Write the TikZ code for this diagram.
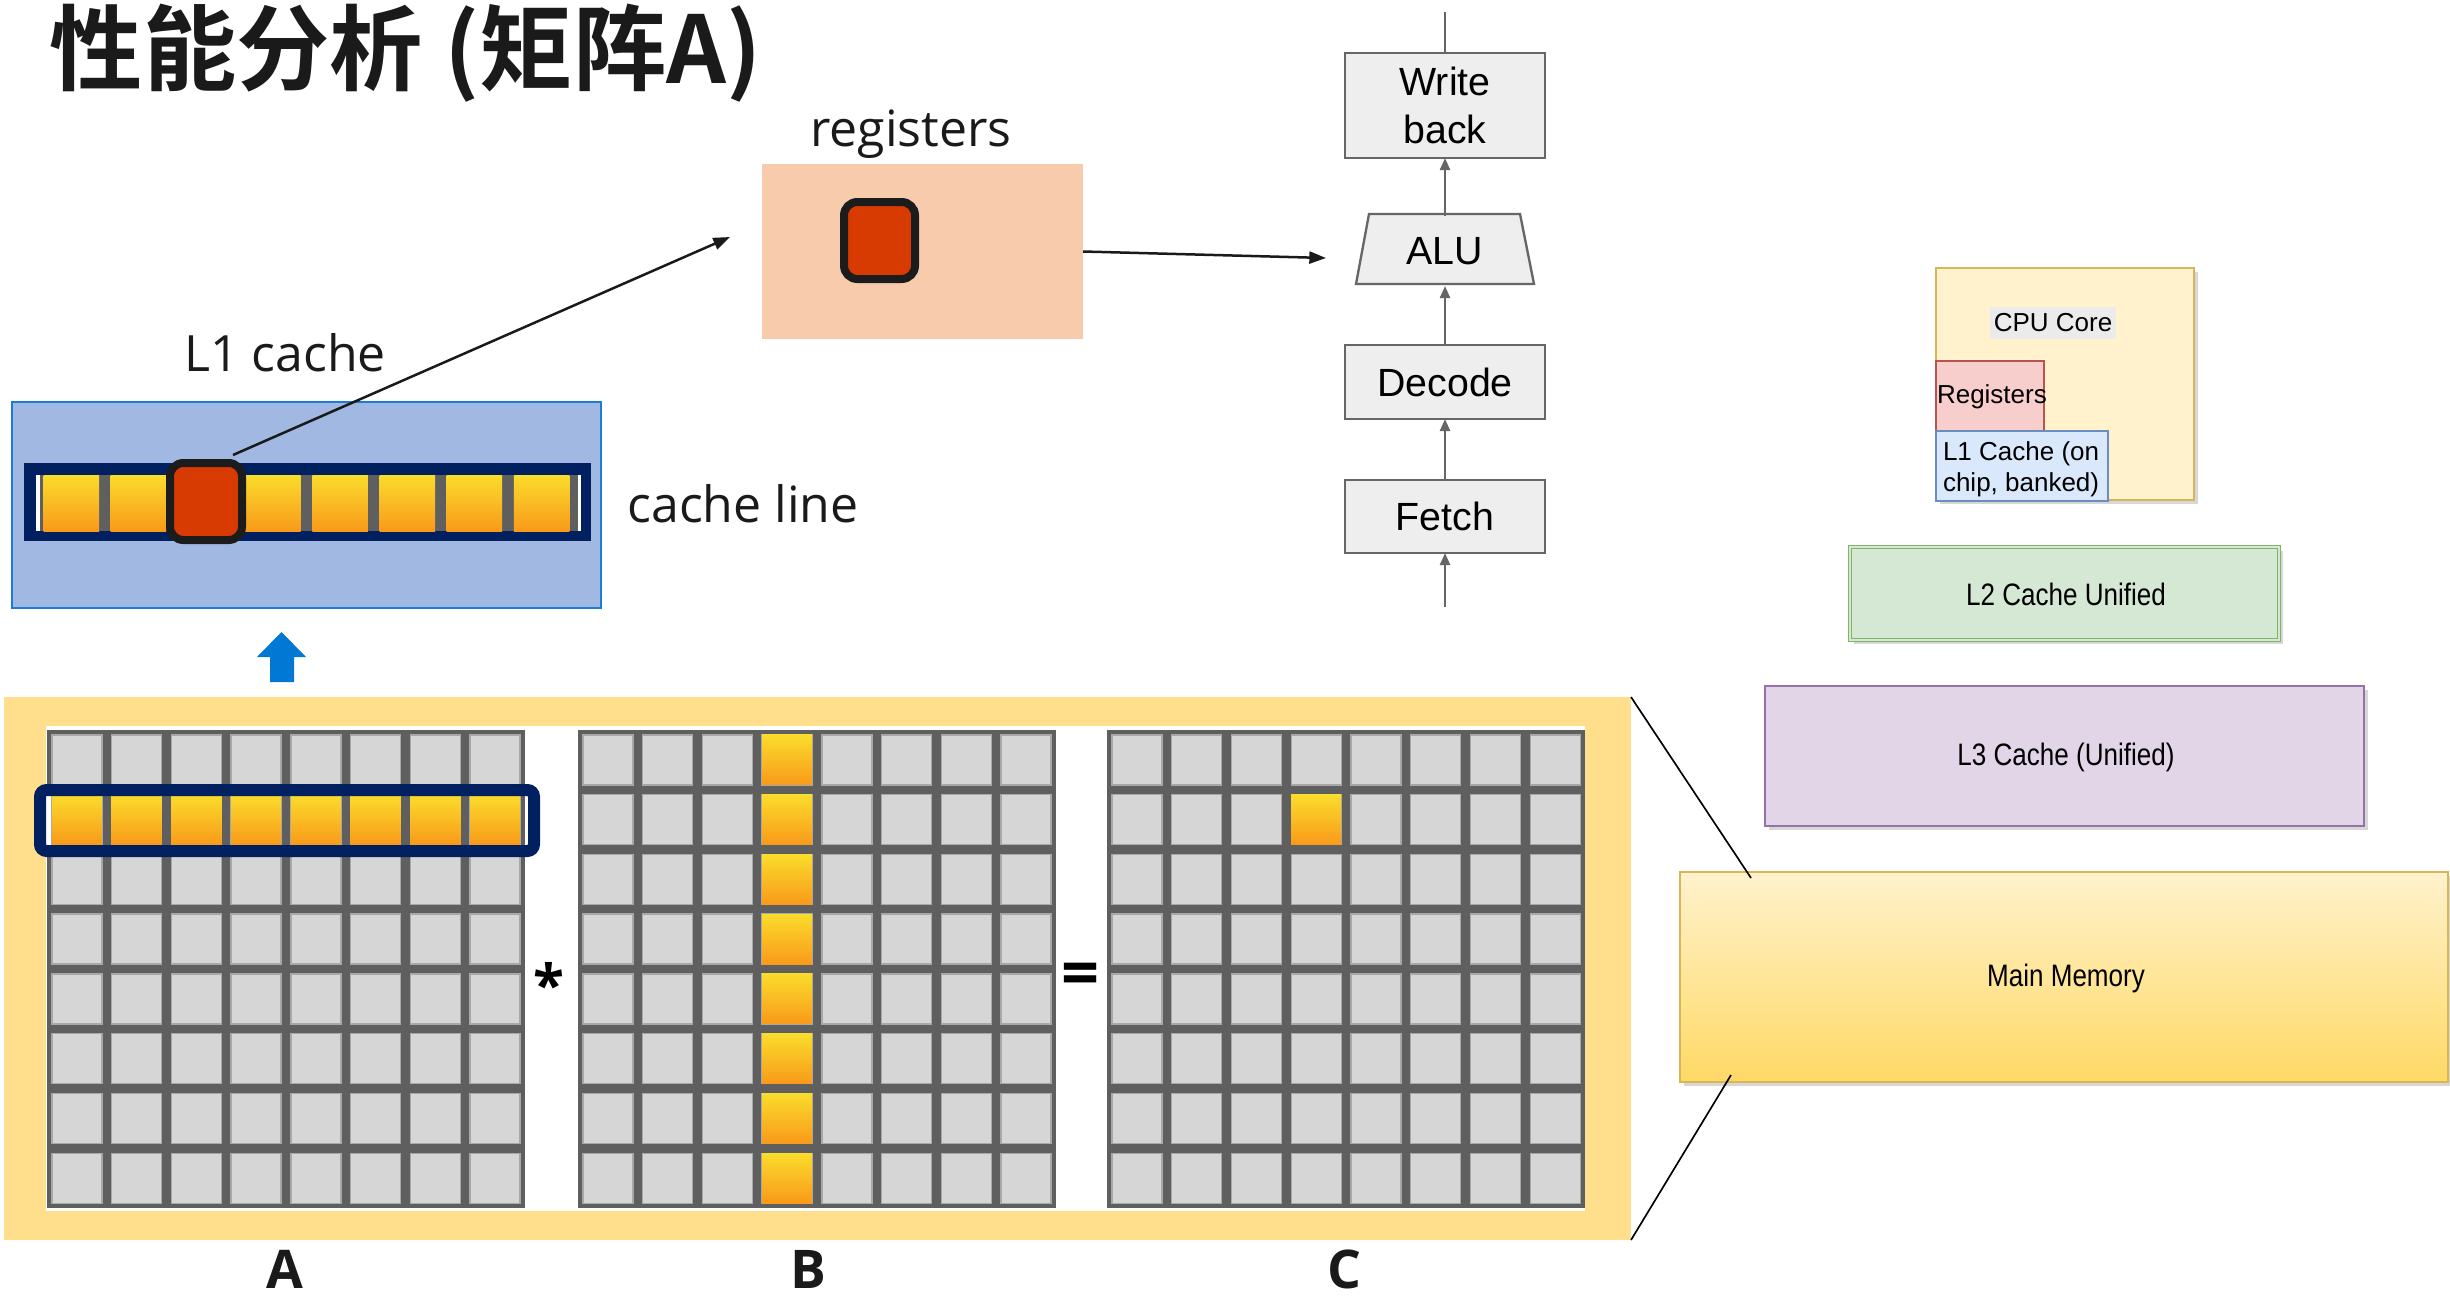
\documentclass[tikz,border=0pt]{standalone}
\usepackage{fontspec}
\newfontfamily\cjkfont{Noto Sans CJK SC}[BoldFont={* Bold}]
\newfontfamily\uifont{Open Sans}
\newfontfamily\arialfont{Liberation Sans}
\newfontfamily\arialnarrow{Liberation Sans}[FakeStretch=0.84]
\usetikzlibrary{arrows.meta,fit,shadows}

\definecolor{txtdark}{HTML}{1A1A1A}
\definecolor{bgyellow}{HTML}{FFDF8C}
\definecolor{gridgray}{HTML}{5F5F5F}
\definecolor{cellgray}{HTML}{D6D6D6}
\definecolor{celledge}{HTML}{A8A8A8}
\definecolor{goldtop}{HTML}{FADC2C}
\definecolor{goldbot}{HTML}{F99A1A}
\definecolor{navy}{HTML}{002060}
\definecolor{l1fill}{HTML}{A0B8E2}
\definecolor{l1edge}{HTML}{1A7FD4}
\definecolor{regfill}{HTML}{F8CBAD}
\definecolor{redcell}{HTML}{D83B01}
\definecolor{cellborder}{HTML}{1C1C1C}
\definecolor{upblue}{HTML}{0078D4}
\definecolor{pipefill}{HTML}{EEEEEE}
\definecolor{pipeedge}{HTML}{666666}
\definecolor{cpufill}{HTML}{FFF2CC}
\definecolor{cpuedge}{HTML}{D6B656}
\definecolor{hlgray}{HTML}{EBEBEB}
\definecolor{rgfill}{HTML}{F8CECC}
\definecolor{rgedge}{HTML}{B85450}
\definecolor{lonefill}{HTML}{DAE8FC}
\definecolor{loneedge}{HTML}{6C8EBF}
\definecolor{ltwofill}{HTML}{D5E8D4}
\definecolor{ltwoedge}{HTML}{82B366}
\definecolor{lthreefill}{HTML}{E1D5E7}
\definecolor{lthreeedge}{HTML}{9673A6}
\definecolor{memtop}{HTML}{FFF2CC}
\definecolor{membot}{HTML}{FFD966}

% one highlighted (gold) matrix cell, top-left corner given
\newcommand\goldcell[2]{\shade[top color=goldtop,bottom color=goldbot] ({#1},{#2}) rectangle ++(50,50);}

\begin{document}
\begin{tikzpicture}[x=0.3pt,y=-0.3pt,
  every node/.style={inner sep=0pt, outer sep=0pt},
  ui/.style={font=\uifont\fontsize{15}{18}\selectfont, text=txtdark},
  uibold/.style={font=\uifont\bfseries\fontsize{16}{19}\selectfont, text=txtdark},
  redbox/.style={draw=cellborder, line width=2.4pt, fill=redcell, rounded corners=4pt},
  pipebox/.style={draw=pipeedge, fill=pipefill, line width=0.7pt, minimum width=60pt,
    align=center, font=\arialfont\fontsize{11.8}{14.4}\selectfont},
  pipeline/.style={draw=pipeedge, line width=0.7pt},
  pipearrow/.style={pipeline, -{Triangle[length=3.6pt,width=3pt]}},
  blackarrow/.style={draw=txtdark, line width=0.75pt, -{Triangle[length=5pt,width=3.6pt]}},
  dioshadow/.style={drop shadow={shadow xshift=1.2pt, shadow yshift=-1.2pt, opacity=0.22, fill=black!70}},
  diotext/.style={font=\arialnarrow\fontsize{9.3}{11}\selectfont, text=black},
  diosmall/.style={font=\arialfont\fontsize{7.8}{9.3}\selectfont, text=black},
]
\useasboundingbox (0,0) rectangle (2450,1297);
\fill[white] (0,0) rectangle (2450,1297);

% ---------- title ----------
\node[anchor=west, font=\cjkfont\bfseries\fontsize{28}{32}\selectfont, text=txtdark] (title) at (50,53) {性能分析 (矩阵A)};

% ---------- registers ----------
\node[fill=regfill, minimum width=96.3pt, minimum height=52.5pt] (regbox) at (922.5,251.5) {};
\node[ui] (reglabel) at (911,134) {registers};
\node[redbox, minimum width=21.3pt, minimum height=23.1pt] (regcell) at (879.5,240.5) {};

% ---------- L1 cache with one cache line ----------
\node[fit={(12,402) (601,608)}, draw=l1edge, fill=l1fill, line width=0.6pt] (l1box) {};
\node[ui] (l1label) at (285,353) {L1 cache};
\node[fit={(24,463) (591,541)}, fill=navy] (cacheline) {};
\fill[gridgray] (36,475) rectangle (581,531);
\fill[white] (36,475) rectangle (39.5,531);
\fill[white] (577.5,475) rectangle (581,531);
\foreach \i in {0,...,7}
  \shade[top color=goldtop,bottom color=goldbot] ({43.5+\i*67.2},475) rectangle ++(55.5,56);
\node[redbox, minimum width=21.6pt, minimum height=23.1pt] (l1cell) at (206,501.5) {};
\node[ui] (cllabel) at (743,504) {cache line};

% load into register, then feed the ALU
\coordinate (regtip) at (730,237);
\draw[blackarrow] ([xshift=-2.7pt,yshift=2.4pt]l1cell.north east) -- (regtip);
\coordinate (aluin) at (1326,258);
\draw[blackarrow] (regbox.east) -- (aluin);

% ---------- pipeline ----------
\node[pipebox, minimum height=31.5pt] (wb) at (1445,105.5) {Write\\back};
\draw[draw=pipeedge, fill=pipefill, line width=0.7pt]
  (1369,214) -- (1520,214) -- (1534,284) -- (1356,284) -- cycle;
\node[minimum width=45.3pt, minimum height=21pt, font=\arialfont\fontsize{11.8}{14.4}\selectfont] (alu) at (1445,251) {ALU};
\node[pipebox, minimum height=22.2pt] (decode) at (1445,382) {Decode};
\node[pipebox, minimum height=21.9pt] (fetch) at (1445,516.5) {Fetch};
\coordinate (wbtop) at (1445,12);
\coordinate (fetchin) at (1445,607);
\draw[pipeline] (wb) -- (wbtop);
\draw[pipearrow] (fetchin) -- (fetch);
\draw[pipearrow] (fetch) -- (decode);
\draw[pipearrow] (decode) -- (alu);
\draw[pipearrow] (alu) -- (wb);

% ---------- upward block arrow ----------
\fill[upblue] (257,657) -- (281.5,632) -- (306,657) -- (294,657) -- (294,682)
  -- (270,682) -- (270,657) -- cycle;

% ---------- matrices A * B = C ----------
\node[fit={(4,697) (1631,1240)}, fill=bgyellow] (matbg) {};
\fill[white] (46,726) rectangle (1585,1211);
\foreach \mx in {47,578,1107} {
  \fill[gridgray] (\mx,730) rectangle ++(478,478);
  \foreach \i in {0,...,7}
    \foreach \j in {0,...,7}
      \filldraw[fill=cellgray, draw=celledge, line width=0.4pt]
        ({\mx+4.9+\i*59.75},{734.9+\j*59.75}) rectangle ++(50,50);
}
% row of A
\foreach \i in {0,...,7} { \goldcell{51.9+\i*59.75}{794.65} }
\fill[white] (46,794.65) rectangle (50.5,844.65);
\draw[navy, line width=3.6pt, rounded corners=2pt] (40,790) rectangle (534,851);
% column of B
\foreach \j in {0,...,7} { \goldcell{582.9+3*59.75}{734.9+\j*59.75} }
% element of C
\goldcell{1111.9+3*59.75}{794.65}

\node[font=\uifont\bfseries\fontsize{17}{20}\selectfont, text=black, anchor=base] (times) at (549,1005) {*};
\node[font=\uifont\bfseries\fontsize{20}{24}\selectfont, text=black, anchor=base] (equals) at (1081,996) {=};
\node[uibold, anchor=base] (labA) at (284.7,1288) {A};
\node[uibold, anchor=base] (labB) at (808,1288) {B};
\node[uibold, anchor=base] (labC) at (1344,1288) {C};

% ---------- memory hierarchy ----------
\node[fit={(1936,268) (2194,500)}, draw=cpuedge, fill=cpufill, line width=0.6pt, dioshadow] (cpu) {};
\node[diosmall, fill=hlgray, inner xsep=1pt, inner ysep=1.9pt] (cpulabel) at (2053,323) {CPU Core};
\node[fit={(1936,361) (2044,431)}, draw=rgedge, fill=rgfill, line width=0.6pt] (rg) {};
\node[diosmall, anchor=west] (rglabel) at (1937,397) {Registers};
\node[fit={(1936,431) (2108,501)}, draw=loneedge, fill=lonefill, line width=0.6pt] (lone) {};
\node[diosmall, anchor=north west, align=left] (lonelabel) at (1943,442) {L1 Cache (on\\chip, banked)};

\node[fit={(1850,547) (2279,640)}, draw=ltwoedge, double=ltwofill, double distance=0.6pt,
  line width=0.4pt, fill=ltwofill, dioshadow] (ltwo) {};
\node[diotext] (ltwolabel) at (2066,594) {L2 Cache Unified};

\node[fit={(1765,686) (2364,826)}, draw=lthreeedge, fill=lthreefill, line width=0.6pt, dioshadow] (lthree) {};
\node[diotext] (lthreelabel) at (2066,757) {L3 Cache (Unified)};

\node[fit={(1680,872) (2448,1082)}, draw=cpuedge, top color=memtop, bottom color=membot,
  line width=0.6pt, dioshadow] (mainmem) {};
\node[diotext] (mainmemlabel) at (2066,978) {Main Memory};

% the matrices live in main memory
\coordinate (memtop) at (1751,878);
\coordinate (membot) at (1731,1075);
\draw[line width=0.5pt] (matbg.north east) -- (memtop);
\draw[line width=0.5pt] (matbg.south east) -- (membot);
\end{tikzpicture}
\end{document}
